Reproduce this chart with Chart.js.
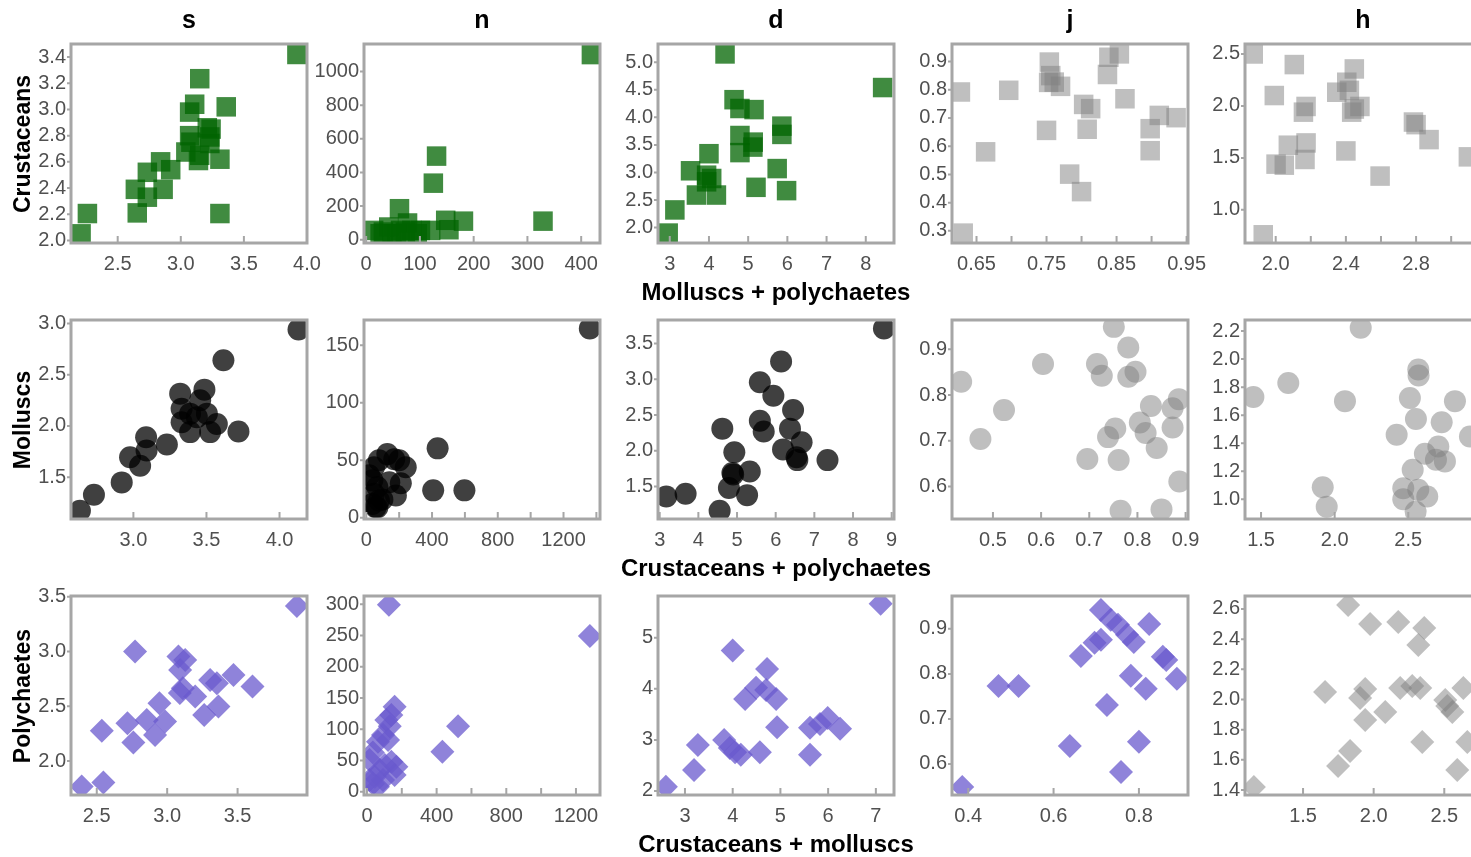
<!DOCTYPE html>
<html>
<head>
<meta charset="utf-8">
<script src="https://cdn.jsdelivr.net/npm/chart.js@4.4.0/dist/chart.umd.min.js"></script>
<style>
  html, body { margin: 0; padding: 0; background: #fff; overflow: hidden; width: 1471px; height: 857px; }
  body { position: relative; }
  canvas { position: absolute; }
  .lbl { position: absolute; font-family: "Liberation Sans", Arial, sans-serif; font-weight: bold; color: #000; white-space: nowrap; transform: translate(-50%, -50%); }
</style>
</head>
<body>
<script>
// column titles, row axis titles
const colTitles = ["s", "n", "d", "j", "h"];
const rowYTitles = ["Crustaceans", "Molluscs", "Polychaetes"];
const rowXTitles = ["Molluscs + polychaetes", "Crustaceans + polychaetes", "Crustaceans + molluscs"];

// ---- row 1: Crustaceans vs molluscs + polychaetes ----
const crusS = [[3.92,3.42],[3.15,3.235],[3.11,3.04],[3.07,2.98],[3.36,3.02],[3.24,2.85],[3.21,2.86],[3.07,2.80],[3.08,2.75],[3.23,2.79],[3.31,2.62],[3.14,2.61],[3.15,2.65],[3.04,2.675],[3.23,2.74],[2.84,2.60],[2.92,2.54],[2.735,2.52],[2.86,2.39],[2.64,2.39],[2.735,2.33],[2.655,2.21],[3.31,2.205],[2.26,2.205],[2.21,2.05]];
const crusN = [[419,1101],[131,497],[125,336],[329,110],[181,110],[148,115],[154,59],[62,184],[120,55],[101,55],[14,55],[32,45],[48,35],[64,55],[77,99],[85,55],[95,35],[42,75],[57,35],[73,45],[26,35]];
const crusD = [[4.41,5.15],[8.43,4.54],[4.64,4.32],[4.79,4.16],[5.15,4.14],[5.86,3.84],[5.86,3.69],[4.79,3.67],[5.13,3.55],[5.12,3.46],[4.79,3.36],[4.0,3.34],[3.53,3.03],[5.74,3.07],[3.94,2.95],[4.07,2.89],[3.94,2.83],[3.68,2.59],[4.19,2.59],[5.2,2.73],[5.98,2.67],[3.13,2.32],[2.96,1.90]];
const crusJ = [[0.754,0.898],[0.839,0.915],[0.854,0.927],[0.837,0.854],[0.756,0.85],[0.753,0.826],[0.761,0.827],[0.77,0.812],[0.627,0.792],[0.696,0.798],[0.862,0.768],[0.803,0.748],[0.813,0.733],[0.911,0.709],[0.935,0.701],[0.898,0.662],[0.75,0.656],[0.808,0.66],[0.663,0.58],[0.898,0.584],[0.783,0.501],[0.80,0.439],[0.631,0.292]];
const crusH = [[1.872,2.5],[2.106,2.398],[2.448,2.356],[2.405,2.228],[2.348,2.132],[2.42,2.15],[1.992,2.1],[2.173,1.995],[2.158,1.94],[2.48,1.995],[2.433,1.94],[2.448,1.97],[2.785,1.845],[2.8,1.82],[2.874,1.676],[2.173,1.644],[2.072,1.622],[2.4,1.567],[2.167,1.485],[2.002,1.44],[2.049,1.43],[2.595,1.325],[3.098,1.51],[1.929,0.76]];

// ---- row 2: Molluscs vs crustaceans + polychaetes ----
const mollS = [[4.13,2.94],[3.616,2.64],[3.32,2.315],[3.486,2.354],[3.33,2.168],[3.457,2.25],[3.388,2.12],[3.434,2.086],[3.503,2.12],[3.571,2.02],[3.33,2.037],[3.388,1.94],[3.525,1.94],[3.719,1.946],[3.087,1.89],[3.229,1.82],[3.09,1.76],[2.977,1.695],[3.046,1.613],[2.92,1.45],[2.73,1.33],[2.634,1.173]];
const mollN = [[1360,164.6],[434,60.4],[407,23.9],[597,23.9],[128,55.4],[200,50],[240,44],[77,50],[170,51],[210,30],[140,31],[180,19.5],[47,44],[37,32.6],[67,26.8],[47,21],[77,15],[57,9.3],[37,12],[98,16],[17,37],[67,9]];
const mollD = [[8.80,3.71],[6.14,3.25],[5.59,2.96],[5.94,2.77],[6.45,2.57],[5.59,2.42],[5.69,2.27],[4.62,2.31],[6.37,2.31],[6.67,2.12],[6.19,2.02],[6.56,1.87],[6.54,1.91],[7.34,1.87],[4.93,1.98],[5.33,1.71],[4.88,1.69],[4.9,1.67],[4.79,1.48],[5.26,1.38],[3.17,1.36],[3.67,1.40],[4.55,1.16]];
const mollJ = [[0.751,0.949],[0.781,0.904],[0.604,0.868],[0.716,0.868],[0.726,0.842],[0.781,0.84],[0.796,0.851],[0.434,0.829],[0.523,0.767],[0.828,0.776],[0.873,0.771],[0.886,0.791],[0.805,0.74],[0.817,0.717],[0.754,0.727],[0.739,0.708],[0.873,0.729],[0.474,0.704],[0.84,0.684],[0.696,0.66],[0.761,0.658],[0.887,0.611],[0.765,0.547],[0.85,0.55]];
const mollH = [[2.177,2.224],[2.568,1.926],[2.57,1.883],[1.685,1.83],[1.448,1.73],[2.07,1.70],[2.511,1.723],[2.817,1.70],[2.552,1.573],[2.727,1.549],[2.421,1.46],[2.919,1.448],[2.704,1.377],[2.613,1.325],[2.688,1.282],[2.749,1.27],[2.53,1.21],[2.466,1.079],[2.568,1.067],[2.629,1.019],[2.466,1.0],[1.919,1.086],[1.946,0.947],[2.55,0.911]];

// ---- row 3: Polychaetes vs crustaceans + molluscs ----
const polyS = [[3.921,3.415],[2.772,3.0],[3.08,2.953],[3.128,2.922],[3.092,2.831],[3.471,2.786],[3.305,2.74],[3.353,2.71],[3.606,2.679],[3.111,2.664],[3.09,2.62],[3.199,2.588],[2.945,2.527],[3.364,2.497],[3.263,2.421],[2.855,2.375],[2.718,2.345],[2.985,2.36],[2.536,2.277],[2.76,2.168],[2.914,2.238],[2.547,1.803],[2.393,1.767]];
const polyN = [[126,299],[1280,249],[523,105],[433,64],[159,136],[140,123],[111,115],[131,105],[92,91],[121,83],[63,80],[34,63],[15,51],[169,40],[140,48],[159,27],[74,35],[45,24],[92,19],[34,13],[63,8],[15,19],[102,43]];
const polyD = [[7.10,5.67],[4.0,4.75],[4.72,4.39],[4.70,3.98],[4.91,3.80],[4.26,3.80],[4.49,4.02],[3.27,2.90],[3.82,3.0],[3.94,2.84],[3.19,2.41],[4.05,2.76],[4.17,2.71],[4.57,2.76],[4.93,3.25],[2.60,2.08],[5.62,3.24],[5.99,3.43],[5.83,3.31],[6.25,3.22],[5.62,2.71]];
const polyJ = [[0.386,0.549],[0.471,0.773],[0.518,0.773],[0.638,0.64],[0.664,0.84],[0.696,0.869],[0.711,0.942],[0.734,0.92],[0.751,0.909],[0.772,0.887],[0.788,0.871],[0.824,0.911],[0.725,0.731],[0.781,0.796],[0.816,0.767],[0.856,0.838],[0.864,0.831],[0.889,0.789],[0.8,0.649],[0.758,0.582],[0.711,0.876]];
const polyH = [[1.152,1.42],[1.656,2.05],[1.819,2.627],[1.975,2.5],[2.174,2.514],[1.94,2.07],[1.904,2.01],[1.94,1.864],[2.082,1.917],[2.188,2.076],[2.273,2.089],[2.33,2.076],[2.358,2.474],[2.316,2.361],[2.344,1.718],[2.507,1.997],[2.557,1.917],[2.635,2.076],[2.521,1.957],[1.833,1.658],[1.748,1.559],[2.592,1.532],[2.663,1.718]];

// ---- tick values and labels ('' = unlabelled tick) ----
const xTicksCrusS = [2.5, 3.0, 3.5, 4.0],             xLabCrusS = ["2.5","3.0","3.5","4.0"];
const yTicksCrusS = [2.0,2.2,2.4,2.6,2.8,3.0,3.2,3.4], yLabCrusS = ["2.0","2.2","2.4","2.6","2.8","3.0","3.2","3.4"];
const xTicksCrusN = [0,100,200,300,400],               xLabCrusN = ["0","100","200","300","400"];
const yTicksCrusN = [0,200,400,600,800,1000],          yLabCrusN = ["0","200","400","600","800","1000"];
const xTicksCrusD = [3,4,5,6,7,8],                     xLabCrusD = ["3","4","5","6","7","8"];
const yTicksCrusD = [2.0,2.5,3.0,3.5,4.0,4.5,5.0],     yLabCrusD = ["2.0","2.5","3.0","3.5","4.0","4.5","5.0"];
const xTicksCrusJ = [0.65,0.70,0.75,0.80,0.85,0.90,0.95], xLabCrusJ = ["0.65","","0.75","","0.85","","0.95"];
const yTicksCrusJ = [0.3,0.4,0.5,0.6,0.7,0.8,0.9],     yLabCrusJ = ["0.3","0.4","0.5","0.6","0.7","0.8","0.9"];
const xTicksCrusH = [2.0,2.2,2.4,2.6,2.8,3.0],         xLabCrusH = ["2.0","","2.4","","2.8",""];
const yTicksCrusH = [1.0,1.5,2.0,2.5],                 yLabCrusH = ["1.0","1.5","2.0","2.5"];

const xTicksMollS = [3.0,3.5,4.0],                     xLabMollS = ["3.0","3.5","4.0"];
const yTicksMollS = [1.5,2.0,2.5,3.0],                 yLabMollS = ["1.5","2.0","2.5","3.0"];
const xTicksMollN = [0,200,400,600,800,1000,1200,1400], xLabMollN = ["0","","400","","800","","1200",""];
const yTicksMollN = [0,50,100,150],                    yLabMollN = ["0","50","100","150"];
const xTicksMollD = [3,4,5,6,7,8,9],                   xLabMollD = ["3","4","5","6","7","8","9"];
const yTicksMollD = [1.5,2.0,2.5,3.0,3.5],             yLabMollD = ["1.5","2.0","2.5","3.0","3.5"];
const xTicksMollJ = [0.5,0.6,0.7,0.8,0.9],             xLabMollJ = ["0.5","0.6","0.7","0.8","0.9"];
const yTicksMollJ = [0.6,0.7,0.8,0.9],                 yLabMollJ = ["0.6","0.7","0.8","0.9"];
const xTicksMollH = [1.5,2.0,2.5],                     xLabMollH = ["1.5","2.0","2.5"];
const yTicksMollH = [1.0,1.2,1.4,1.6,1.8,2.0,2.2],     yLabMollH = ["1.0","1.2","1.4","1.6","1.8","2.0","2.2"];

const xTicksPolyS = [2.5,3.0,3.5],                     xLabPolyS = ["2.5","3.0","3.5"];
const yTicksPolyS = [2.0,2.5,3.0,3.5],                 yLabPolyS = ["2.0","2.5","3.0","3.5"];
const xTicksPolyN = [0,200,400,600,800,1000,1200],     xLabPolyN = ["0","","400","","800","","1200"];
const yTicksPolyN = [0,50,100,150,200,250,300],        yLabPolyN = ["0","50","100","150","200","250","300"];
const xTicksPolyD = [3,4,5,6,7],                       xLabPolyD = ["3","4","5","6","7"];
const yTicksPolyD = [2,3,4,5],                         yLabPolyD = ["2","3","4","5"];
const xTicksPolyJ = [0.4,0.6,0.8],                     xLabPolyJ = ["0.4","0.6","0.8"];
const yTicksPolyJ = [0.6,0.7,0.8,0.9],                 yLabPolyJ = ["0.6","0.7","0.8","0.9"];
const xTicksPolyH = [1.5,2.0,2.5],                     xLabPolyH = ["1.5","2.0","2.5"];
const yTicksPolyH = [1.4,1.6,1.8,2.0,2.2,2.4,2.6],     yLabPolyH = ["1.4","1.6","1.8","2.0","2.2","2.4","2.6"];

// ---- layout of the grid ----
const COL_LEFT = [71, 364, 658, 952, 1245];
const ROW_TOP = [44, 320, 596];
const FW = 236, FH = 199;
const YW = 64, XH = 44, PT = 16, PR = 26;

const GREEN = "rgba(0,100,0,0.75)";
const BLACK = "rgba(0,0,0,0.75)";
const GRAY = "rgba(128,128,128,0.5)";
const PURPLE = "rgba(106,90,205,0.75)";

// row, col, data, x range, y range, ticks
const panels = [
  {r:0,c:0,data:crusS,x:[2.13,4.0],y:[1.98,3.50],xt:xTicksCrusS,xl:xLabCrusS,yt:yTicksCrusS,yl:yLabCrusS,col:GREEN},
  {r:0,c:1,data:crusN,x:[-4,435],y:[-20,1164],xt:xTicksCrusN,xl:xLabCrusN,yt:yTicksCrusN,yl:yLabCrusN,col:GREEN},
  {r:0,c:2,data:crusD,x:[2.70,8.72],y:[1.72,5.33],xt:xTicksCrusD,xl:xLabCrusD,yt:yTicksCrusD,yl:yLabCrusD,col:GREEN},
  {r:0,c:3,data:crusJ,x:[0.615,0.952],y:[0.257,0.962],xt:xTicksCrusJ,xl:xLabCrusJ,yt:yTicksCrusJ,yl:yLabCrusJ,col:GRAY},
  {r:0,c:4,data:crusH,x:[1.825,3.17],y:[0.681,2.596],xt:xTicksCrusH,xl:xLabCrusH,yt:yTicksCrusH,yl:yLabCrusH,col:GRAY},
  {r:1,c:0,data:mollS,x:[2.573,4.188],y:[1.093,3.033],xt:xTicksMollS,xl:xLabMollS,yt:yTicksMollS,yl:yLabMollS,col:BLACK},
  {r:1,c:1,data:mollN,x:[-14,1422],y:[-1,172],xt:xTicksMollN,xl:xLabMollN,yt:yTicksMollN,yl:yLabMollN,col:BLACK},
  {r:1,c:2,data:mollD,x:[2.956,9.06],y:[1.046,3.83],xt:xTicksMollD,xl:xLabMollD,yt:yTicksMollD,yl:yLabMollD,col:BLACK},
  {r:1,c:3,data:mollJ,x:[0.415,0.905],y:[0.529,0.964],xt:xTicksMollJ,xl:xLabMollJ,yt:yTicksMollJ,yl:yLabMollJ,col:GRAY},
  {r:1,c:4,data:mollH,x:[1.391,2.994],y:[0.859,2.279],xt:xTicksMollH,xl:xLabMollH,yt:yTicksMollH,yl:yLabMollH,col:GRAY},
  {r:2,c:0,data:polyS,x:[2.317,3.993],y:[1.69,3.506],xt:xTicksPolyS,xl:xLabPolyS,yt:yTicksPolyS,yl:yLabPolyS,col:PURPLE},
  {r:2,c:1,data:polyN,x:[-17,1338],y:[-5,313],xt:xTicksPolyN,xl:xLabPolyN,yt:yTicksPolyN,yl:yLabPolyN,col:PURPLE},
  {r:2,c:2,data:polyD,x:[2.435,7.38],y:[1.92,5.82],xt:xTicksPolyD,xl:xLabPolyD,yt:yTicksPolyD,yl:yLabPolyD,col:PURPLE},
  {r:2,c:3,data:polyJ,x:[0.362,0.915],y:[0.531,0.973],xt:xTicksPolyJ,xl:xLabPolyJ,yt:yTicksPolyJ,yl:yLabPolyJ,col:PURPLE},
  {r:2,c:4,data:polyH,x:[1.089,2.76],y:[1.367,2.686],xt:xTicksPolyH,xl:xLabPolyH,yt:yTicksPolyH,yl:yLabPolyH,col:GRAY}
];

// marker shape per row
const rowStyle = [
  { pointStyle: "rect", radius: 13.8 },
  { pointStyle: "circle", radius: 11 },
  { pointStyle: "rectRot", radius: 12 }
];

const tickFont = { family: '"Liberation Sans", Arial, sans-serif', size: 20 };

// frame + small tick marks (x ticks point inward like the original)
const framePlugin = {
  id: "frame",
  afterDatasetsDraw(chart) {
    const { ctx, chartArea: a, scales } = chart;
    ctx.save();
    ctx.strokeStyle = "#a6a6a6";
    ctx.lineWidth = 2;
    ctx.beginPath();
    scales.x.ticks.forEach(t => {
      const px = scales.x.getPixelForValue(t.value);
      ctx.moveTo(px, a.bottom);
      ctx.lineTo(px, a.bottom - 7);
    });
    scales.y.ticks.forEach(t => {
      const py = scales.y.getPixelForValue(t.value);
      ctx.moveTo(a.left, py);
      ctx.lineTo(a.left - 4, py);
    });
    ctx.stroke();
    ctx.lineWidth = 3;
    ctx.strokeRect(a.left, a.top, a.right - a.left, a.bottom - a.top);
    ctx.restore();
  }
};

function makeScale(range, values, labels, isX) {
  return {
    type: "linear",
    min: range[0],
    max: range[1],
    afterBuildTicks: s => { s.ticks = values.map(v => ({ value: v })); },
    afterFit: s => {
      if (isX) s.height = XH; else s.width = YW;
      s.paddingLeft = s.paddingRight = s.paddingTop = s.paddingBottom = 0;
    },
    grid: { display: false, drawTicks: false },
    border: { display: false },
    ticks: {
      autoSkip: false,
      maxRotation: 0,
      padding: isX ? 9 : 5,
      color: "#505050",
      font: tickFont,
      callback: (v, i) => labels[i]
    }
  };
}

panels.forEach(p => {
  const canvas = document.createElement("canvas");
  canvas.width = FW + YW + PR;
  canvas.height = FH + PT + XH;
  canvas.style.left = (COL_LEFT[p.c] - YW) + "px";
  canvas.style.top = (ROW_TOP[p.r] - PT) + "px";
  document.body.appendChild(canvas);

  const st = rowStyle[p.r];
  new Chart(canvas.getContext("2d"), {
    type: "scatter",
    data: {
      datasets: [{
        data: p.data.map(d => ({ x: d[0], y: d[1] })),
        pointStyle: st.pointStyle,
        pointRadius: st.radius,
        pointBackgroundColor: p.col,
        pointBorderWidth: 0,
        borderWidth: 0,
        clip: 0
      }]
    },
    options: {
      responsive: false,
      animation: false,
      devicePixelRatio: 1,
      layout: { padding: { left: 0, top: PT, right: PR, bottom: 0 } },
      plugins: { legend: { display: false }, tooltip: { enabled: false } },
      scales: {
        x: makeScale(p.x, p.xt, p.xl, true),
        y: makeScale(p.y, p.yt, p.yl, false)
      }
    },
    plugins: [framePlugin]
  });
});

function addLabel(text, x, y, size, rotate) {
  const d = document.createElement("div");
  d.className = "lbl";
  d.textContent = text;
  d.style.left = x + "px";
  d.style.top = y + "px";
  d.style.fontSize = size + "px";
  if (rotate) d.style.transform = "translate(-50%, -50%) rotate(-90deg)";
  document.body.appendChild(d);
}

colTitles.forEach((t, c) => addLabel(t, COL_LEFT[c] + FW / 2, 19, 25));
rowXTitles.forEach((t, r) => addLabel(t, 776, ROW_TOP[r] + FH + 49, 24));
rowYTitles.forEach((t, r) => addLabel(t, 22, ROW_TOP[r] + FH / 2, 23, true));
</script>
</body>
</html>
